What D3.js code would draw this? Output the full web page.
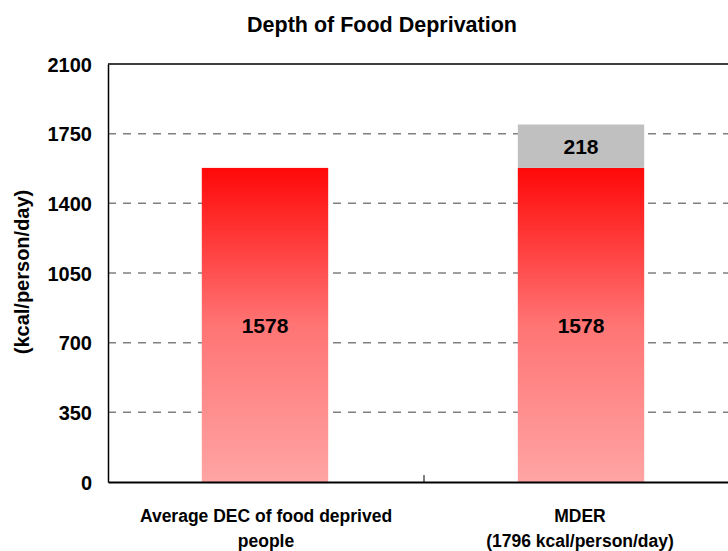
<!DOCTYPE html>
<html>
<head>
<meta charset="utf-8">
<script src="https://cdn.jsdelivr.net/npm/d3@7"></script>
<style>
  body { margin: 0; background: #fff; }
  svg text { font-family: "Liberation Sans", Arial, sans-serif; font-weight: bold; fill: #000; }
</style>
</head>
<body>
<div id="chart"></div>
<script>
// chart data
const categories = ["Average DEC of food deprived people", "MDER (1796 kcal/person/day)"];
const categoryLines = [["Average DEC of food deprived", "people"], ["MDER", "(1796 kcal/person/day)"]];
const decValues = [1578, 1578];
const gapValues = [0, 218];
const yTicks = [0, 350, 700, 1050, 1400, 1750, 2100];

const width = 728, height = 551;
const margin = {top: 64, right: -12, bottom: 69, left: 108};

const svg = d3.select("#chart").append("svg")
    .attr("width", width)
    .attr("height", height);

// gradient for the red bars
const defs = svg.append("defs");
const grad = defs.append("linearGradient")
    .attr("id", "redGrad")
    .attr("x1", 0).attr("y1", 0).attr("x2", 0).attr("y2", 1);
grad.append("stop").attr("offset", "0%").attr("stop-color", "#ff0808");
grad.append("stop").attr("offset", "50%").attr("stop-color", "#ff7474");
grad.append("stop").attr("offset", "100%").attr("stop-color", "#ffa4a4");

const x = d3.scaleBand()
    .domain(categories)
    .range([margin.left, width - margin.right])
    .padding(0);

const y = d3.scaleLinear()
    .domain([0, 2100])
    .range([height - margin.bottom, margin.top]);

const barW = x.bandwidth() * 0.4;

// gridlines
svg.append("g")
    .selectAll("line")
    .data(yTicks.filter(d => d > 0 && d < 2100))
    .join("line")
    .attr("x1", margin.left)
    .attr("x2", width - margin.right)
    .attr("y1", d => y(d))
    .attr("y2", d => y(d))
    .attr("stroke", "#808080")
    .attr("stroke-width", 1.5)
    .attr("stroke-dasharray", "8,7");

// red bars
svg.append("g")
    .selectAll("rect")
    .data(categories)
    .join("rect")
    .attr("x", (d, i) => x(d) + x.bandwidth() / 2 - barW / 2 - 1)
    .attr("width", barW)
    .attr("y", (d, i) => y(decValues[i]))
    .attr("height", (d, i) => y(0) - y(decValues[i]))
    .attr("fill", "url(#redGrad)");

// gray gap segment
svg.append("g")
    .selectAll("rect")
    .data(categories.filter((d, i) => gapValues[i] > 0))
    .join("rect")
    .attr("x", d => x(d) + x.bandwidth() / 2 - barW / 2 - 1)
    .attr("width", barW)
    .attr("y", d => {
        const i = categories.indexOf(d);
        return y(decValues[i] + gapValues[i]);
    })
    .attr("height", d => {
        const i = categories.indexOf(d);
        return y(decValues[i]) - y(decValues[i] + gapValues[i]);
    })
    .attr("fill", "#c0c0c0");

// value labels
svg.append("g")
    .selectAll("text")
    .data(categories)
    .join("text")
    .attr("x", d => x(d) + x.bandwidth() / 2 - 1)
    .attr("y", (d, i) => (y(0) + y(decValues[i])) / 2)
    .attr("dy", "0.36em")
    .attr("text-anchor", "middle")
    .style("font-size", "21px")
    .text((d, i) => decValues[i]);

svg.append("g")
    .selectAll("text")
    .data(categories.filter((d, i) => gapValues[i] > 0))
    .join("text")
    .attr("x", d => x(d) + x.bandwidth() / 2 - 1)
    .attr("y", d => {
        const i = categories.indexOf(d);
        return (y(decValues[i]) + y(decValues[i] + gapValues[i])) / 2;
    })
    .attr("dy", "0.36em")
    .attr("text-anchor", "middle")
    .style("font-size", "21px")
    .text(d => gapValues[categories.indexOf(d)]);

// plot frame (top + right)
svg.append("path")
    .attr("d", `M${margin.left},${margin.top}H${width - margin.right}V${y(0)}`)
    .attr("fill", "none")
    .attr("stroke", "#000")
    .attr("stroke-width", 1.5);

// y axis
const yAxis = svg.append("g")
    .attr("transform", `translate(${margin.left},0)`)
    .call(d3.axisLeft(y).tickValues(yTicks).tickSize(0).tickPadding(16).tickFormat(d3.format("d")));
yAxis.select(".domain").attr("stroke", "#000").attr("stroke-width", 1.5);
yAxis.selectAll("text").style("font-size", "20px").attr("dy", "0.36em");

// x axis
const xAxis = svg.append("g")
    .attr("transform", `translate(0,${y(0)})`)
    .call(d3.axisBottom(x).tickSize(0).tickFormat(""));
xAxis.select(".domain").attr("stroke", "#000").attr("stroke-width", 2);

// category separator tick
svg.append("line")
    .attr("x1", x(categories[1]))
    .attr("x2", x(categories[1]))
    .attr("y1", y(0))
    .attr("y2", y(0) - 7)
    .attr("stroke", "#000")
    .attr("stroke-width", 1);

// category labels
categoryLines.forEach((lines, i) => {
    const t = svg.append("text")
        .attr("text-anchor", "middle")
        .style("font-size", "17.5px");
    lines.forEach((ln, j) => {
        t.append("tspan")
            .attr("x", x(categories[i]) + x.bandwidth() / 2 - (i === 0 ? 0 : 2))
            .attr("y", 522 + j * 25)
            .text(ln);
    });
});

// axis title
svg.append("text")
    .attr("transform", `translate(29,${272}) rotate(-90)`)
    .attr("text-anchor", "middle")
    .style("font-size", "20px")
    .text("(kcal/person/day)");

// chart title
svg.append("text")
    .attr("x", 382)
    .attr("y", 32)
    .attr("text-anchor", "middle")
    .style("font-size", "21.5px")
    .text("Depth of Food Deprivation");
</script>
</body>
</html>
